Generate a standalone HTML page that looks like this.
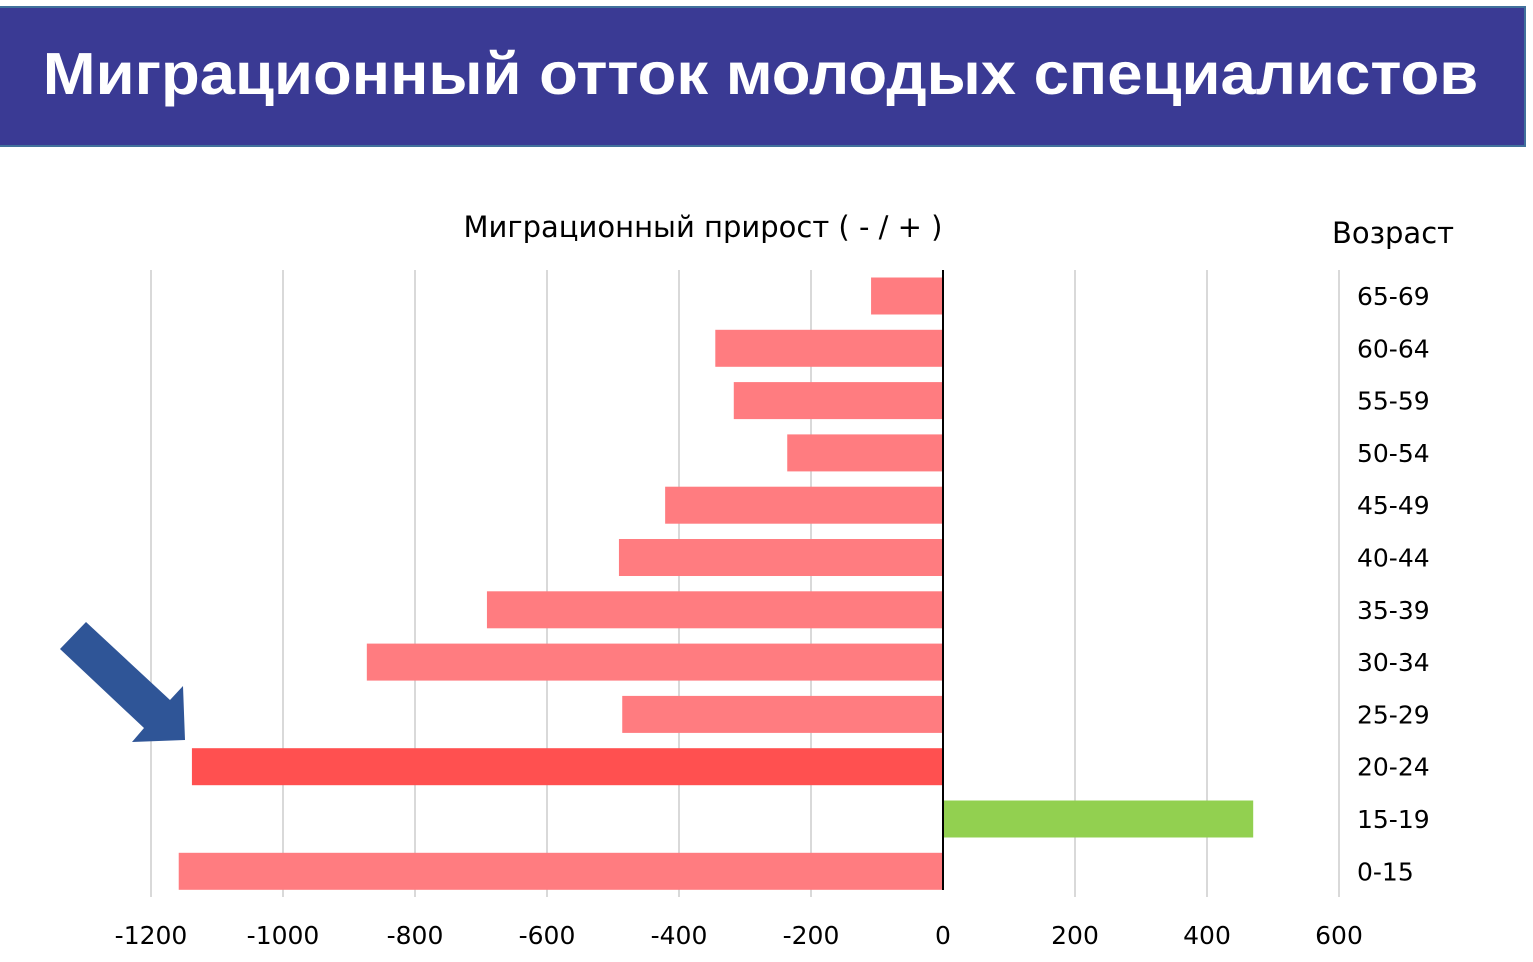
<!DOCTYPE html>
<html><head><meta charset="utf-8"><style>
body{margin:0;width:1533px;height:962px;background:#fff;overflow:hidden;font-family:"Liberation Sans","DejaVu Sans",sans-serif}
#hdr{position:absolute;left:0;top:6px;width:1524px;height:137px;background:#3a3a94;border:2px solid #41719c;border-left:none}
#hdr h1{margin:0;color:#fff;font-size:59px;font-weight:bold;text-align:center;line-height:133px;width:1521px;transform:scaleX(1.075);transform-origin:760px 50%}
</style></head><body>
<div id="hdr"><h1>Миграционный отток молодых специалистов</h1></div>
<svg id="c" width="1533" height="962" style="position:absolute;left:0;top:0"></svg>
<script>
const categories=["65-69","60-64","55-59","50-54","45-49","40-44","35-39","30-34","25-29","20-24","15-19","0-15"];
const values=[-109,-345,-317,-236,-421,-491,-691,-873,-486,-1138,470,-1158];
const ticks=[-1200,-1000,-800,-600,-400,-200,0,200,400,600];
const highlight="20-24";
const NS="http://www.w3.org/2000/svg";
const svg=document.getElementById('c');
const x=v=>943+v*0.66;
const y=i=>296+i*52.3;
function mk(t,a,txt){const e=document.createElementNS(NS,t);for(const k in a)e.setAttribute(k,a[k]);if(txt!=null)e.textContent=txt;svg.appendChild(e);return e;}
ticks.forEach(t=>{
 if(t!==0){const g=mk('line',{x1:x(t),x2:x(t),y1:270,y2:897,stroke:'#d9d9d9','stroke-width':2});
 
 }
 const l=mk('text',{x:x(t),y:944,'text-anchor':'middle','font-size':25,fill:'#000','font-family':'DejaVu Sans, sans-serif'},t);
 
 
});
categories.forEach((c,i)=>{
 const v=values[i];
 const col=v>0?'#92d050':(c===highlight?'#ff5050':'#ff7c80');
 const r=mk('rect',{x:Math.min(x(0),x(v)),y:y(i)-18.5,width:Math.abs(x(v)-x(0)),height:37,fill:col});
 
 
 const l=mk('text',{x:1357,y:y(i)+9,'font-size':25,fill:'#000','font-family':'DejaVu Sans, sans-serif'},c);
 
 
});
const ax=mk('line',{x1:943,x2:943,y1:270,y2:890,stroke:'#000','stroke-width':2});


const t1=mk('text',{x:703,y:237,'text-anchor':'middle','font-size':29,fill:'#000','font-family':'DejaVu Sans, sans-serif'},'Миграционный прирост ( - / + )');


const t2=mk('text',{x:1393,y:243,'text-anchor':'middle','font-size':29,fill:'#000','font-family':'DejaVu Sans, sans-serif'},'Возраст');


const ar=mk('polygon',{points:'60,649 86,622 170,700 183,686 185,740 132,742 144,728',fill:'#2f5597'});


</script>
</body></html>
